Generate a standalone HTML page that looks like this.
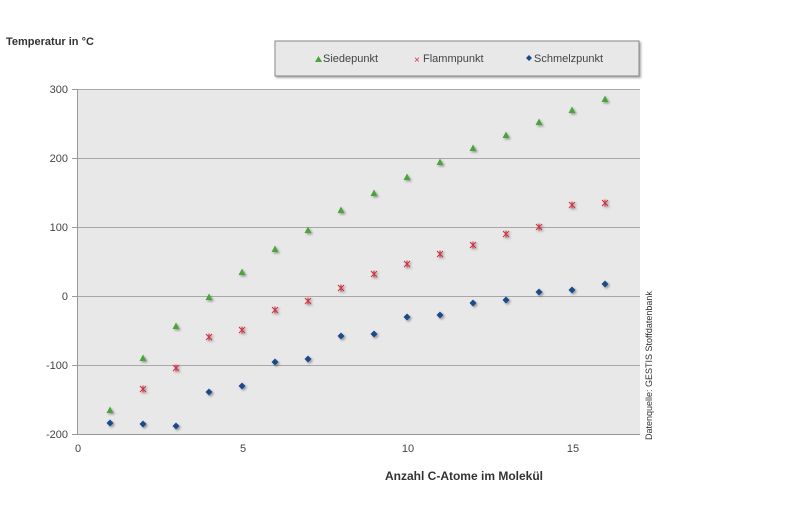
<!DOCTYPE html><html><head><meta charset="utf-8"><style>body{margin:0;background:#fff}svg{display:block}text{font-family:"Liberation Sans",sans-serif}</style></head><body>
<svg width="800" height="510" xmlns="http://www.w3.org/2000/svg">
<defs><filter id="s" x="-50%" y="-50%" width="200%" height="200%"><feDropShadow dx="1.5" dy="1.5" stdDeviation="1" flood-color="#000" flood-opacity="0.35"/></filter></defs>
<text x="6" y="45" font-size="11" font-weight="bold" fill="#333">Temperatur in °C</text>
<rect x="275" y="41" width="364" height="35" fill="#e8e8e8" stroke="#888" filter="url(#s)"/>
<polygon points="315,62 318.5,56 322,62" fill="#4ca33a"/><text x="323" y="62" font-size="11" fill="#444">Siedepunkt</text>
<text x="414" y="63" font-size="10" fill="#d03040">×</text><text x="423" y="62" font-size="11" fill="#444">Flammpunkt</text>
<polygon points="529,55 532,58 529,61 526,58" fill="#1a4a8c"/><text x="534" y="62" font-size="11" fill="#444">Schmelzpunkt</text>
<rect x="77" y="89" width="563" height="345" fill="#e8e8e8"/>
<g stroke="#a8a8a8" stroke-width="1"><line x1="77" y1="89.5" x2="640" y2="89.5"/><line x1="77" y1="158.5" x2="640" y2="158.5"/><line x1="77" y1="227.5" x2="640" y2="227.5"/><line x1="77" y1="296.5" x2="640" y2="296.5"/><line x1="77" y1="365.5" x2="640" y2="365.5"/></g>
<line x1="77" y1="434.5" x2="640" y2="434.5" stroke="#999"/>
<line x1="77.5" y1="89" x2="77.5" y2="434" stroke="#999"/>
<g stroke="#999"><line x1="72" y1="89.5" x2="77" y2="89.5"/><line x1="72" y1="158.5" x2="77" y2="158.5"/><line x1="72" y1="227.5" x2="77" y2="227.5"/><line x1="72" y1="296.5" x2="77" y2="296.5"/><line x1="72" y1="365.5" x2="77" y2="365.5"/><line x1="72" y1="434.5" x2="77" y2="434.5"/></g>
<g font-size="11" fill="#444" text-anchor="end"><text x="68" y="93">300</text><text x="68" y="162">200</text><text x="68" y="231">100</text><text x="68" y="300">0</text><text x="68" y="369">-100</text><text x="68" y="438">-200</text></g>
<g font-size="11" fill="#444" text-anchor="middle"><text x="78" y="452">0</text><text x="243" y="452">5</text><text x="408" y="452">10</text><text x="573" y="452">15</text></g>
<text x="464" y="480" font-size="12" font-weight="bold" fill="#333" text-anchor="middle">Anzahl C-Atome im Molekül</text>
<text transform="translate(652,440) rotate(-90)" font-size="9" fill="#333">Datenquelle: GESTIS Stoffdatenbank</text>
<g id="pts" filter="url(#s)"></g>
</svg>
<script>
var g=document.getElementById('pts'),ns="http://www.w3.org/2000/svg";
var S=[410,358,326,297,272,249,230,210,193,177,162,148,135,122,110,99];
var F=[null,389,368,337,330,310,301,288,274,264,254,245,234,227,205,203];
var M=[423,424,426,392,386,362,359,336,334,317,315,303,300,292,290,284];
function px(i){return 77+33*(i+1);}
var h='';
for(var i=0;i<16;i++){var x=px(i);
h+='<polygon points="'+(x-3.5)+','+(S[i]+3)+' '+x+','+(S[i]-3.5)+' '+(x+3.5)+','+(S[i]+3)+'" fill="#4ca33a"/>';
if(F[i]!=null){var y=F[i];h+='<path d="M'+(x-3)+' '+(y-3)+'L'+(x+3)+' '+(y+3)+'M'+(x+3)+' '+(y-3)+'L'+(x-3)+' '+(y+3)+'M'+x+' '+(y-3.5)+'L'+x+' '+(y+3.5)+'" stroke="#d03040" stroke-width="1.1"/>';}
var m=M[i];h+='<polygon points="'+x+','+(m-3.5)+' '+(x+3.5)+','+m+' '+x+','+(m+3.5)+' '+(x-3.5)+','+m+'" fill="#1a4a8c"/>';}
g.innerHTML=h;
</script>
</body></html>
